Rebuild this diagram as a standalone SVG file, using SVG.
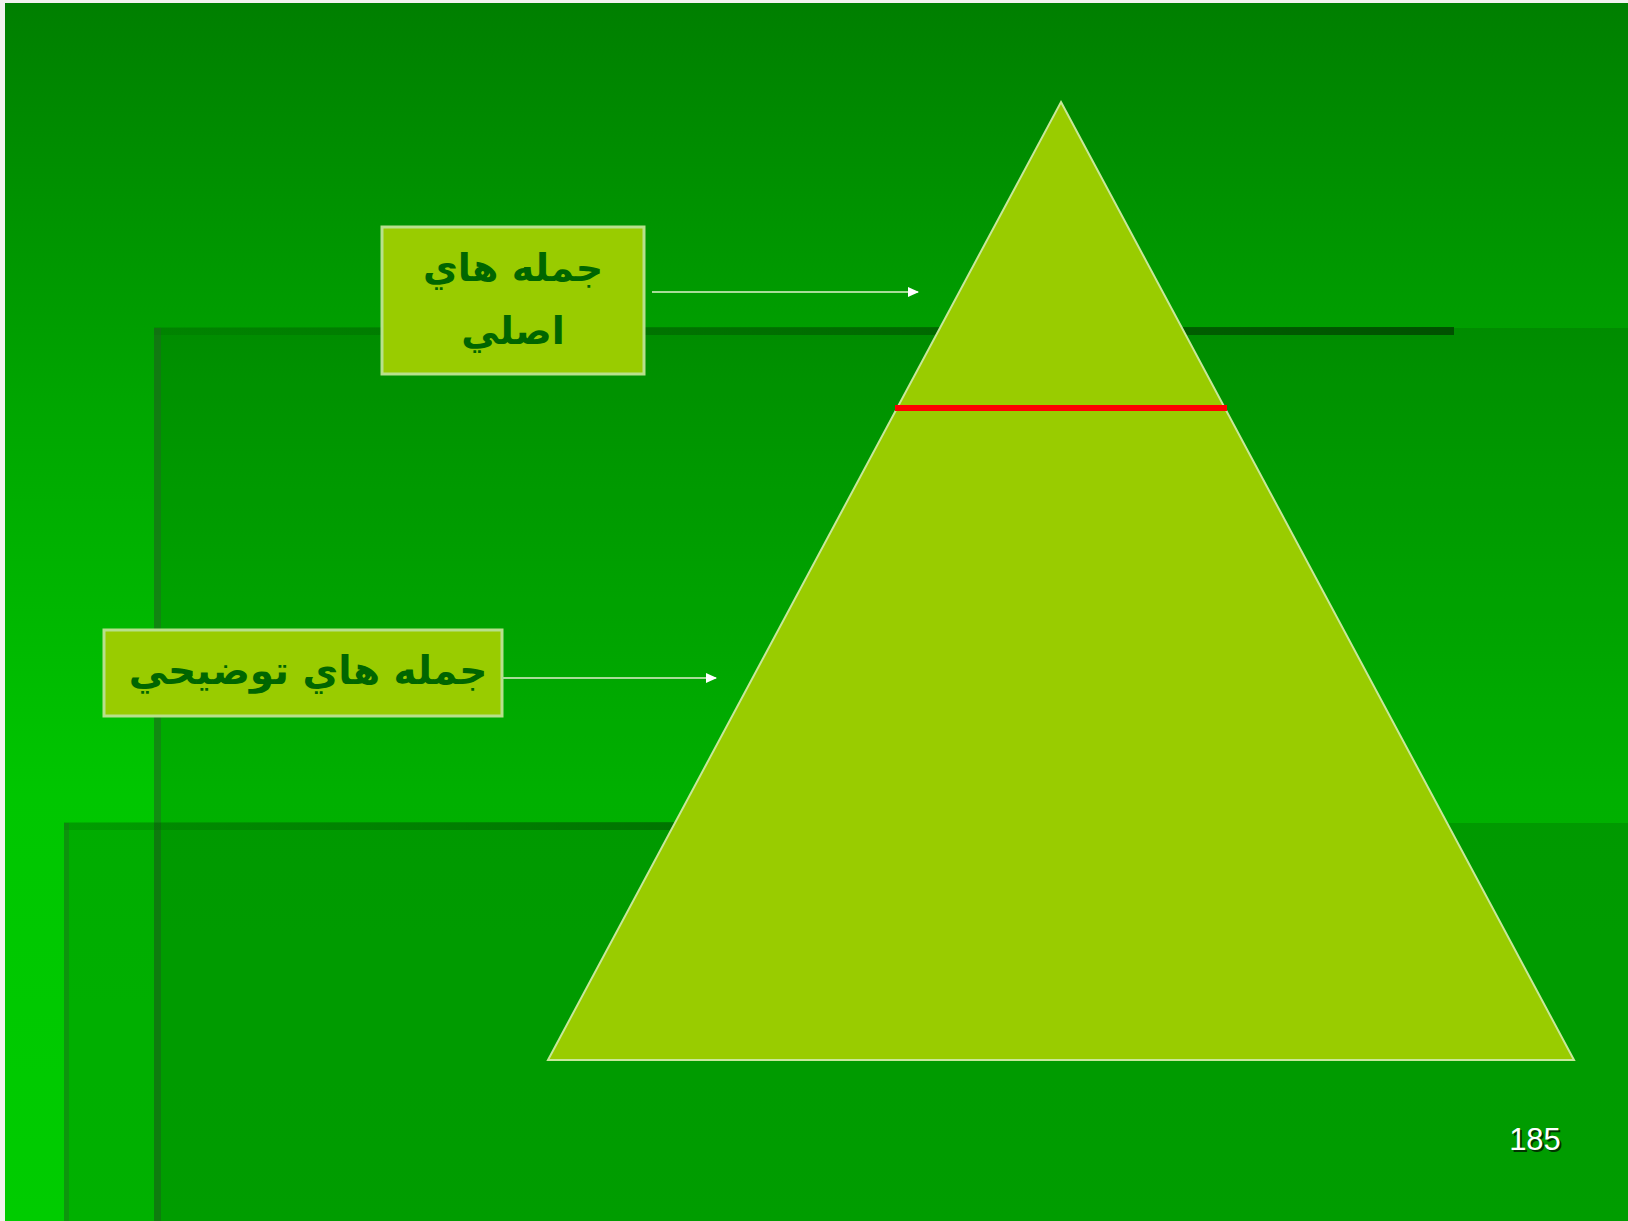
<svg xmlns="http://www.w3.org/2000/svg" width="1628" height="1221" viewBox="0 0 1628 1221">
<style>
.box{fill:#99cc00;stroke:#b8e08c;stroke-width:3}
.lbl{font-family:"DejaVu Sans",sans-serif;font-weight:bold;fill:#006600;text-anchor:middle}
.conn{stroke:#a8dc98;stroke-width:2;fill:none}
</style>
<defs>
<linearGradient id="bg" x1="0" y1="0" x2="0" y2="1">
<stop offset="0" stop-color="#007f00"/>
<stop offset="0.25" stop-color="#009c00"/>
<stop offset="0.33" stop-color="#00a600"/>
<stop offset="0.65" stop-color="#00c600"/>
<stop offset="1" stop-color="#00cc00"/>
</linearGradient>
<linearGradient id="shadowH" x1="0" y1="0" x2="1" y2="0">
<stop offset="0" stop-color="#006000" stop-opacity="0.2"/>
<stop offset="1" stop-color="#004a00" stop-opacity="0.9"/>
</linearGradient>
<marker id="arr" markerUnits="userSpaceOnUse" markerWidth="12" markerHeight="12" refX="10" refY="6" orient="auto">
<path d="M0,1 L11,6 L0,11 z" fill="#ffffff"/>
</marker>
</defs>
<rect x="0" y="0" width="1628" height="1221" fill="#f2f2ee"/>
<rect x="5" y="3" width="1623" height="1218" fill="url(#bg)"/>
<g id="backplates">
<rect x="154" y="328" width="1474" height="893" fill="#000000" fill-opacity="0.11"/>
<rect x="154" y="327" width="1300" height="8" fill="url(#shadowH)"/>
<rect x="154" y="328" width="7" height="893" fill="#2a5a2a" fill-opacity="0.4"/>
<rect x="64" y="823" width="1564" height="398" fill="#000000" fill-opacity="0.13"/>
<rect x="64" y="822" width="1250" height="8" fill="url(#shadowH)"/>
<rect x="64" y="823" width="5" height="398" fill="#2a5a2a" fill-opacity="0.3"/>
</g>
<g id="pyramid">
<polygon points="1061,102 1574,1060 548,1060" fill="#99cc00" stroke="#c8e89a" stroke-width="2"/>
<line x1="895" y1="408" x2="1227" y2="408" stroke="#ff0000" stroke-width="6"/>
</g>
<g id="node-main">
<rect class="box" x="382" y="227" width="262" height="147"/>
<text class="lbl" x="513" y="281" font-size="38">جمله هاي</text>
<text class="lbl" x="513" y="344" font-size="38">اصلي</text>
</g>
<g id="node-explain">
<rect class="box" x="104" y="630" width="398" height="86"/>
<text class="lbl" x="308" y="684" font-size="39">جمله هاي توضيحي</text>
</g>
<g id="connectors">
<line class="conn" x1="652" y1="292" x2="918" y2="292" marker-end="url(#arr)"/>
<line class="conn" x1="502" y1="678" x2="716" y2="678" marker-end="url(#arr)"/>
</g>
<g id="page-number">
<text x="1537" y="1152" font-family="Liberation Sans, Arial, sans-serif" font-size="31" text-anchor="middle" fill="#003300">185</text>
<text x="1535" y="1150" font-family="Liberation Sans, Arial, sans-serif" font-size="31" text-anchor="middle" fill="#ffffff">185</text>
</g>
</svg>
